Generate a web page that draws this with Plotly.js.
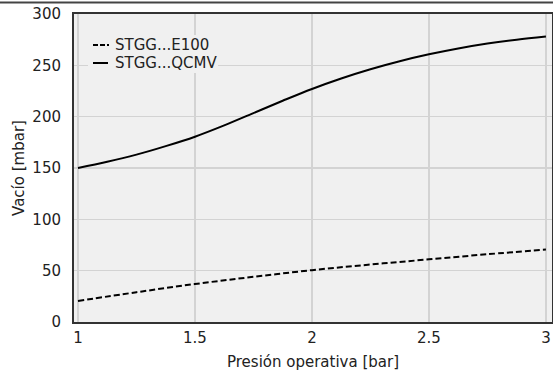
<!DOCTYPE html>
<html>
<head>
<meta charset="utf-8">
<script src="https://cdn.plot.ly/plotly-3.0.1.min.js"></script>
<style>
html,body{margin:0;padding:0;background:#fff;}
#chart{width:553px;height:371px;}
</style>
</head>
<body>
<div id="chart"></div>
<script>
const seriesNames = ["STGG...E100", "STGG...QCMV"];
const pressureE100 = [1, 1.25, 1.5, 1.75, 2, 2.25, 2.5, 2.75, 3];
const vacuumE100 = [20.5, 29, 37, 44, 50.5, 56, 61, 66, 70.5];
const pressureQCMV = [1, 1.125, 1.25, 1.375, 1.5, 1.625, 1.75, 1.875, 2, 2.125, 2.25, 2.375, 2.5, 2.625, 2.75, 2.875, 3];
const vacuumQCMV = [150, 156, 163, 171.3, 180.5, 191.5, 203.5, 215.5, 227, 237.2, 246.2, 254, 260.7, 266.4, 271.2, 275, 278];
const xTicks = [1, 1.5, 2, 2.5, 3];
const xTickText = ["1", "1.5", "2", "2.5", "3"];
const yTicks = [0, 50, 100, 150, 200, 250, 300];
const xTitle = "Presión operativa [bar]";
const yTitle = "Vacío [mbar]";

const font = {family: "DejaVu Sans, sans-serif", size: 15, color: "#222"};
const dashes = ["6px,3px", "solid"];

const traces = [
  {x: pressureE100, y: vacuumE100, name: seriesNames[0], mode: "lines",
   line: {color: "#000", width: 2, dash: dashes[0], shape: "spline"}},
  {x: pressureQCMV, y: vacuumQCMV, name: seriesNames[1], mode: "lines",
   line: {color: "#000", width: 2, dash: dashes[1], shape: "spline"}}
];

// custom compact legend
const plotW = 478, plotH = 308;
const px = v => v / plotW, py = v => v / plotH;
const legendShapes = [
  {type: "rect", xref: "paper", yref: "paper", layer: "above",
   x0: px(14), x1: px(144), y0: 1 - py(59), y1: 1 - py(21),
   fillcolor: "#f0f0f0", line: {width: 0}},
  {type: "line", xref: "paper", yref: "paper", layer: "above",
   x0: px(19), x1: px(35), y0: 1 - py(31), y1: 1 - py(31),
   line: {color: "#000", width: 2, dash: "5px,2px"}},
  {type: "line", xref: "paper", yref: "paper", layer: "above",
   x0: px(19), x1: px(34), y0: 1 - py(49), y1: 1 - py(49),
   line: {color: "#000", width: 2}},
  // thin frame line across the top of the figure
  {type: "line", xref: "paper", yref: "paper", layer: "above",
   x0: -px(74), x1: 1 + px(1), y0: 1 + py(11.5), y1: 1 + py(11.5),
   line: {color: "#444", width: 2}}
];
const legendAnn = seriesNames.map((n, i) => ({
  xref: "paper", yref: "paper", x: px(39), y: 1 - py(31 + 18 * i),
  xanchor: "left", yanchor: "middle", text: n, showarrow: false,
  font: font
}));

const layout = {
  width: 553, height: 371,
  margin: {l: 74, r: 1, t: 14, b: 49},
  paper_bgcolor: "#ffffff",
  plot_bgcolor: "#f0f0f0",
  font: font,
  showlegend: false,
  xaxis: {
    range: [0.983, 3.026], tickvals: xTicks, ticktext: xTickText,
    showgrid: true, gridcolor: "#d3d3d3", gridwidth: 1.5,
    zeroline: false, showline: true, linecolor: "#333", linewidth: 2, mirror: true,
    ticks: "outside", ticklen: 1, tickcolor: "rgba(0,0,0,0)",
    tickfont: font,
    title: {text: xTitle, font: font, standoff: 17},
    automargin: false
  },
  yaxis: {
    range: [0, 300], tickvals: yTicks,
    showgrid: true, gridcolor: "#d3d3d3", gridwidth: 1.5,
    zeroline: false, showline: true, linecolor: "#333", linewidth: 2, mirror: true,
    ticks: "outside", ticklen: 8, tickcolor: "rgba(0,0,0,0)",
    tickfont: font,
    title: {text: yTitle, font: font, standoff: 4},
    automargin: false
  },
  shapes: legendShapes,
  annotations: legendAnn
};

Plotly.newPlot("chart", traces, layout, {staticPlot: true, displayModeBar: false});
</script>
</body>
</html>
